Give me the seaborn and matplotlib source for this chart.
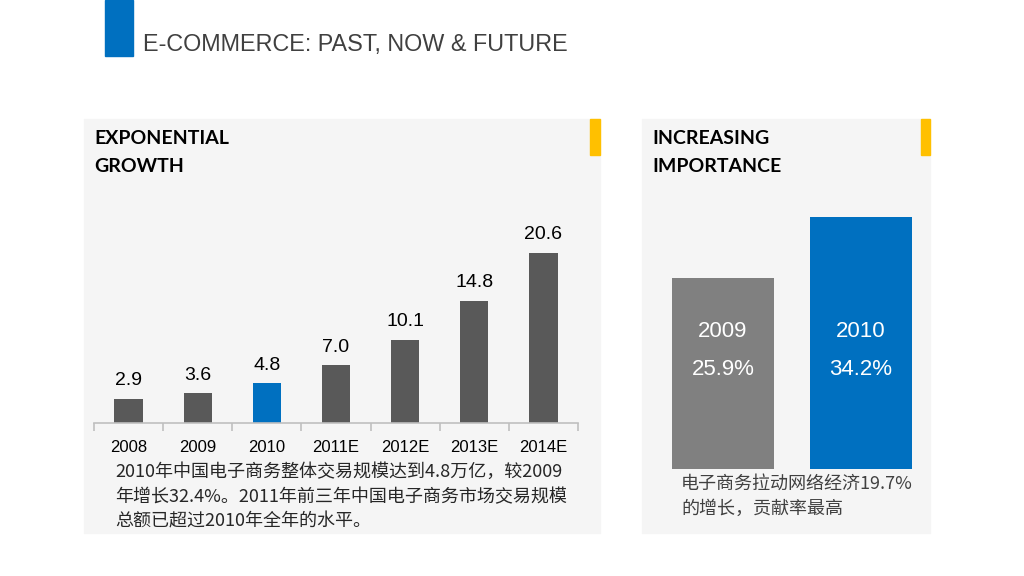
import pandas as pd
import seaborn as sns
import matplotlib.pyplot as plt
from matplotlib.patches import Rectangle

# chart data
years = ['2008', '2009', '2010', '2011E', '2012E', '2013E', '2014E']
volume = [2.9, 3.6, 4.8, 7.0, 10.1, 14.8, 20.6]
share_years = ['2009', '2010']
share_values = [25.9, 34.2]

title = 'E-COMMERCE: PAST, NOW & FUTURE'
left_heading = 'EXPONENTIAL\nGROWTH'
right_heading = 'INCREASING\nIMPORTANCE'
left_note = ('2010年中国电子商务整体交易规模达到4.8万亿，较2009\n'
             '年增长32.4%。2011年前三年中国电子商务市场交易规模\n'
             '总额已超过2010年全年的水平。')
right_note = '电子商务拉动网络经济19.7%\n的增长，贡献率最高'

BLUE = '#0070c0'
DARK = '#595959'
MID = '#808080'
YELLOW = '#ffc000'
PANEL = '#f5f5f5'

W, H = 1024, 576

sns.set_style('white')
plt.rcParams['font.family'] = ['Liberation Sans', 'Noto Sans CJK SC', 'DejaVu Sans']


def fx(px):
    return px / W


def fy(py):
    # pixel y measured from top -> figure fraction
    return 1 - py / H


def box(fig, x0, y0, x1, y1, color):
    fig.patches.append(Rectangle((fx(x0), fy(y1)), fx(x1 - x0), (y1 - y0) / H,
                                 transform=fig.transFigure, color=color, zorder=-1))


fig = plt.figure(figsize=(W / 100, H / 100), dpi=100)
fig.patch.set_facecolor('white')

# header
box(fig, 105, 0, 133, 56, BLUE)
fig.text(fx(143), fy(44), title, fontsize=16.8, color='#404040', va='center', ha='left')

# panels
box(fig, 84, 119, 600, 533, PANEL)
box(fig, 590, 119, 600, 155, YELLOW)
box(fig, 642, 119, 930, 533, PANEL)
box(fig, 921, 119, 930, 155, YELLOW)

fig.text(fx(94), fy(130), left_heading, fontsize=14, fontweight='bold', family='Lato',
         color='black', va='top', ha='left', linespacing=1.8)
fig.text(fx(652), fy(130), right_heading, fontsize=14, fontweight='bold', family='Lato',
         color='black', va='top', ha='left', linespacing=1.8)

# left chart: transaction volume
df = pd.DataFrame({'year': years, 'value': volume})
colors = {y: (BLUE if y == '2010' else DARK) for y in years}
ax = fig.add_axes([fx(94), fy(423), fx(578 - 94), 198 / H])
sns.barplot(data=df, x='year', y='value', hue='year', palette=colors, legend=False,
            width=0.41, saturation=1, linewidth=0, edgecolor='none', ax=ax)
ax.set_ylim(0, 24)
ax.set_xlim(-0.5, len(years) - 0.5)
ax.set_facecolor('none')
for s in ['top', 'right', 'left']:
    ax.spines[s].set_visible(False)
ax.spines['bottom'].set_color('#bfbfbf')
ax.spines['bottom'].set_linewidth(1.2)
ax.set_yticks([])
ax.set_xlabel('')
ax.set_ylabel('')
ax.set_xticks([i - 0.5 for i in range(len(years) + 1)], minor=True)
ax.tick_params(axis='x', which='minor', length=6, color='#bfbfbf', width=1.2, bottom=True)
ax.tick_params(axis='x', which='major', length=0, pad=12, labelsize=12, labelcolor='black')
for c in ax.containers:
    ax.bar_label(c, fmt='%.1f', padding=7, fontsize=14, color='black')

fig.text(fx(115), fy(463), left_note, family='Noto Sans CJK SC', fontsize=13,
         color='#262626', va='top', ha='left', linespacing=1.5)

# right chart: contribution share
df2 = pd.DataFrame({'year': share_years, 'value': share_values})
ax2 = fig.add_axes([fx(654), fy(469), fx(930 - 654), 295 / H])
sns.barplot(data=df2, x='year', y='value', hue='year', palette={'2009': MID, '2010': BLUE},
            legend=False, width=0.74, saturation=1, linewidth=0, edgecolor='none', ax=ax2)
ax2.set_ylim(0, 40)
ax2.set_xlim(-0.5, 1.5)
ax2.set_facecolor('none')
ax2.axis('off')
tr = ax2.get_xaxis_transform()
for i, (y, v) in enumerate(zip(share_years, share_values)):
    ax2.text(i, 0.465, y, transform=tr, ha='center', va='center', fontsize=16, color='white')
    ax2.text(i, 0.338, f'{v:.1f}%', transform=tr, ha='center', va='center', fontsize=16,
             color='white')

fig.text(fx(681), fy(475), right_note, family='Noto Sans CJK SC', fontsize=13,
         color='#404040', va='top', ha='left', linespacing=1.5)

fig.savefig('out.png', dpi=100, facecolor='white')
